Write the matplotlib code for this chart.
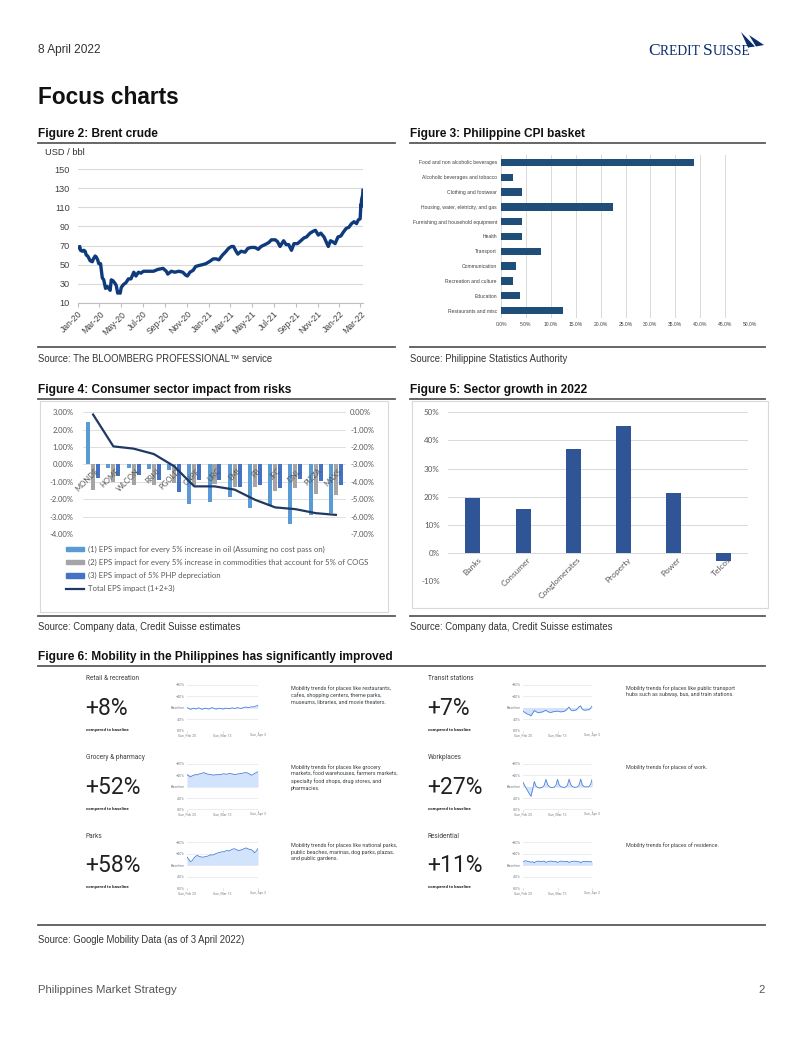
import matplotlib
matplotlib.use('Agg')
import matplotlib.pyplot as plt
import matplotlib.dates as mdates
import matplotlib.transforms as mtransforms
from matplotlib.patches import Polygon, Rectangle, Patch
from matplotlib.lines import Line2D
from matplotlib import font_manager
import numpy as np
import pandas as pd

# ---------------- data ----------------
brent_dates = ['2020-01-02', '2020-01-06', '2020-01-08', '2020-01-13', '2020-01-17', '2020-01-21',
               '2020-01-24', '2020-01-28', '2020-01-31', '2020-02-04', '2020-02-10', '2020-02-13',
               '2020-02-18', '2020-02-21', '2020-02-25', '2020-02-28', '2020-03-04', '2020-03-09',
               '2020-03-13', '2020-03-18', '2020-03-23', '2020-03-27', '2020-03-31', '2020-04-03',
               '2020-04-08', '2020-04-14', '2020-04-17', '2020-04-21', '2020-04-24', '2020-04-28',
               '2020-05-01', '2020-05-07', '2020-05-14', '2020-05-21', '2020-05-28', '2020-06-05',
               '2020-06-11', '2020-06-18', '2020-06-25', '2020-07-02', '2020-07-15', '2020-07-30',
               '2020-08-12', '2020-08-26', '2020-09-04', '2020-09-08', '2020-09-18', '2020-09-28',
               '2020-10-09', '2020-10-20', '2020-10-28', '2020-11-02', '2020-11-09', '2020-11-18',
               '2020-11-25', '2020-12-04', '2020-12-15', '2020-12-24', '2021-01-06', '2021-01-13',
               '2021-01-21', '2021-01-29', '2021-02-08', '2021-02-16', '2021-02-25', '2021-03-05',
               '2021-03-11', '2021-03-18', '2021-03-23', '2021-04-01', '2021-04-12', '2021-04-20',
               '2021-04-29', '2021-05-10', '2021-05-19', '2021-05-27', '2021-06-07', '2021-06-17',
               '2021-06-25', '2021-07-06', '2021-07-12', '2021-07-19', '2021-07-29', '2021-08-05',
               '2021-08-12', '2021-08-20', '2021-08-27', '2021-09-06', '2021-09-15', '2021-09-24',
               '2021-10-01', '2021-10-11', '2021-10-20', '2021-10-26', '2021-11-03', '2021-11-10',
               '2021-11-19', '2021-11-26', '2021-12-01', '2021-12-07', '2021-12-13', '2021-12-20',
               '2021-12-28', '2022-01-05', '2022-01-12', '2022-01-20', '2022-01-27', '2022-02-04',
               '2022-02-11', '2022-02-18', '2022-02-23', '2022-02-28', '2022-03-01', '2022-03-02',
               '2022-03-03', '2022-03-04', '2022-03-07', '2022-03-08']
brent_usd = [68, 69, 65, 64, 65, 64,
             60, 59, 57, 54, 53, 56,
             59, 58, 55, 51, 51, 36,
             34, 25, 27, 25, 23, 34,
             33, 30, 28, 20, 21, 20,
             26, 29, 31, 35, 35, 42,
             38, 42, 41, 43, 43, 43,
             45, 46, 43, 40, 43, 42,
             43, 42, 39, 38, 42, 44,
             48, 49, 50, 51, 54, 56,
             56, 55, 60, 63, 67, 69,
             69, 64, 61, 64, 63, 67,
             68, 68, 66, 69, 71, 73,
             76, 76, 74, 69, 75, 71,
             71, 65, 72, 72, 75, 78,
             79, 83, 85, 86, 81, 83,
             79, 73, 69, 75, 74, 72,
             79, 80, 84, 88, 89, 93,
             95, 93, 97, 98, 105, 113,
             111, 118, 123, 128]

cpi_items = ['Food and non alcoholic beverages', 'Alcoholic beverages and tobacco', 'Clothing and footwear',
             'Housing, water, eletricity, and gas', 'Furnishing and household equipment', 'Health',
             'Transport', 'Communication', 'Recreation and culture', 'Education', 'Restaurants and misc']
cpi_weights = [38.8, 2.5, 4.3, 22.4, 4.3, 4.15, 8.0, 3.0, 2.5, 3.9, 12.4]
cpi_ticks = [0, 5, 10, 15, 20, 25, 30, 35, 40, 45, 50]

eps_tickers = ['MONDE', 'HOME', 'WLCON', 'RRHI', 'PGOLD', 'CNPF', 'URC', 'EMI', 'FB', 'JFC', 'DNL', 'PIZZA', 'MAXS']
eps_oil = [2.45, -0.2, -0.2, -0.25, -0.3, -2.28, -2.17, -1.86, -2.48, -2.4, -3.4, -2.9, -2.8]
eps_commod = [-1.48, -1.0, -1.17, -1.17, -1.07, -1.2, -1.1, -1.32, -1.32, -1.55, -1.36, -1.7, -1.78]
eps_php = [-0.8, -0.65, -0.63, -0.88, -1.6, -0.88, -0.88, -1.32, -1.2, -1.36, -0.83, -0.98, -1.2]
eps_total = [-0.13, -1.96, -2.09, -2.4, -3.1, -4.26, -4.26, -4.45, -5.03, -5.47, -5.57, -5.8, -5.9]
eps_legend = ['(1) EPS impact for every 5% increase in oil (Assuming no cost pass on)',
              '(2) EPS impact for every 5% increase in commodities that account for 5% of COGS',
              '(3) EPS impact of 5% PHP depreciation',
              'Total EPS impact (1+2+3)']

sectors = ['Banks', 'Consumer', 'Conglomerates', 'Property', 'Power', 'Telcos']
sector_growth = [19.5, 15.6, 36.9, 45.0, 21.3, -2.7]

mob_days = pd.date_range('2022-02-20', '2022-04-03')
mob_ticks = ['2022-02-20', '2022-03-13', '2022-04-03']
mob_tick_labels = ['Sun, Feb 20', 'Sun, Mar 13', 'Sun, Apr 3']
mob_retail = [0, -3, -6, -4, -2, -5, -3, -1, -4, -6, -3, -2, -4, -5, -2, 0, -3, -5, -4, -2, -3, -5,
              -4, -2, -3, -4, -2, -1, -3, -2, 0, -2, -3, -1, 1, 2, 0, 1, 3, 2, 4, 6, 8]
mob_grocery = [42, 38, 34, 37, 40, 42, 41, 44, 45, 47, 49, 46, 44, 43, 42, 41, 40, 42, 41, 43, 42, 44,
               45, 43, 44, 46, 45, 44, 42, 43, 44, 45, 46, 47, 48, 49, 47, 44, 40, 42, 46, 49, 52]
mob_parks = [28, 20, 12, 15, 24, 30, 34, 31, 29, 28, 28, 30, 31, 33, 36, 35, 37, 40, 42, 44, 45, 47,
             46, 50, 51, 49, 53, 56, 57, 55, 52, 51, 53, 55, 58, 60, 57, 55, 54, 50, 43, 49, 58]
mob_transit = [-12, -16, -20, -23, -25, -29, -20, -10, -14, -17, -18, -16, -15, -12, -9, -14, -16, -17,
               -15, -14, -13, -12, -14, -15, -14, -13, -10, -4, 2, -8, -11, -10, -9, -4, 3, 6, -6,
               -9, -9, -8, -7, -2, 7]
mob_work = [17, 6, -5, -15, -25, -34, -10, 18, 2, -3, -5, -4, -2, 5, 25, 8, 0, -3, -3, -2, 4, 25, 6,
            0, -2, -3, -1, 5, 26, 7, 0, -2, -2, -1, 5, 26, 6, 0, -1, -1, 0, 8, 27]
mob_resid = [12, 14, 15, 13, 12, 10, 12, 8, 12, 14, 13, 12, 13, 14, 9, 12, 13, 14, 13, 12, 13, 9, 12,
             14, 13, 13, 12, 13, 9, 12, 13, 14, 13, 12, 12, 8, 12, 13, 12, 13, 12, 12, 11]
mob_titles = ['Retail & recreation', 'Grocery & pharmacy', 'Parks',
              'Transit stations', 'Workplaces', 'Residential']
mob_change = ['+8%', '+52%', '+58%', '+7%', '+27%', '+11%']
mob_desc = ['Mobility trends for places like restaurants,\ncafes, shopping centers, theme parks,\nmuseums, libraries, and movie theaters.',
            'Mobility trends for places like grocery\nmarkets, food warehouses, farmers markets,\nspecialty food shops, drug stores, and\npharmacies.',
            'Mobility trends for places like national parks,\npublic beaches, marinas, dog parks, plazas,\nand public gardens.',
            'Mobility trends for places like public transport\nhubs such as subway, bus, and train stations.',
            'Mobility trends for places of work.',
            'Mobility trends for places of residence.']
mob_series = [mob_retail, mob_grocery, mob_parks, mob_transit, mob_work, mob_resid]

# ---------------- fonts ----------------
names = {f.name for f in font_manager.fontManager.ttflist}
if 'Liberation Sans Narrow' in names:
    NARROW, NS = 'Liberation Sans Narrow', 1.0
else:
    NARROW, NS = 'Liberation Sans', 0.86
plt.rcParams['font.family'] = [NARROW, 'DejaVu Sans']
XL = ['Lato', 'DejaVu Sans']
GO = ['Roboto', 'DejaVu Sans']
ARIAL = ['Liberation Sans', 'DejaVu Sans']

W, H = 802, 1037
fig = plt.figure(figsize=(W / 100, H / 100), dpi=100)


def ax_px(x0, y0, x1, y1):
    return fig.add_axes([x0 / W, 1 - y1 / H, (x1 - x0) / W, (y1 - y0) / H])


def txt(x, y, s, **kw):
    kw.setdefault('va', 'center')
    return fig.text(x / W, 1 - y / H, s, **kw)


def hline(x0, x1, y, lw=1.3, color='#5a5a5a'):
    fig.add_artist(Line2D([x0 / W, x1 / W], [1 - y / H, 1 - y / H], lw=lw, color=color,
                          transform=fig.transFigure))


def rect_px(x0, y0, x1, y1, **kw):
    fig.add_artist(Rectangle((x0 / W, 1 - y1 / H), (x1 - x0) / W, (y1 - y0) / H,
                             transform=fig.transFigure, **kw))


def poly_px(pts, **kw):
    fig.add_artist(Polygon([(x / W, 1 - y / H) for x, y in pts], closed=True,
                           transform=fig.transFigure, **kw))


renderer = fig.canvas.get_renderer()


def small_caps(x, y, pieces, **kw):
    # pieces: list of (text, fontsize)
    for s, fs in pieces:
        t = txt(x, y, s, fontsize=fs, va='baseline', **kw)
        bb = t.get_window_extent(renderer=renderer)
        x += bb.width


# ---------------- page header / footer ----------------
txt(38, 50, '8 April 2022', fontsize=10 * NS, color='#333333')
LOGO = '#0b2d6b'
small_caps(648, 55, [('C', 12.5), ('REDIT ', 9.8), ('S', 12.5), ('UISSE', 9.8)],
           color=LOGO, family=['Liberation Serif'])
poly_px([(741, 32), (755, 46.5), (748, 47.5)], color=LOGO, lw=0)
poly_px([(749, 35), (764, 45), (756, 46.5)], color=LOGO, lw=0)
txt(38, 97, 'Focus charts', fontsize=19 * NS, weight='bold', color='#111111')
txt(38, 990, 'Philippines Market Strategy', fontsize=9.5 * NS, color='#555555')
txt(765, 990, '2', fontsize=9.5 * NS, color='#555555', ha='right')

TFS = 10 * NS
SFS = 8 * NS
txt(38, 134, 'Figure 2: Brent crude', fontsize=TFS, weight='bold', color='#111111')
txt(410, 134, 'Figure 3: Philippine CPI basket', fontsize=TFS, weight='bold', color='#111111')
hline(38, 395, 143)
hline(410, 765, 143)
hline(38, 395, 347)
hline(410, 765, 347)
txt(38, 359, 'Source: The BLOOMBERG PROFESSIONAL\u2122 service', fontsize=SFS, color='#333333')
txt(410, 359, 'Source: Philippine Statistics Authority', fontsize=SFS, color='#333333')

txt(38, 390, 'Figure 4: Consumer sector impact from risks', fontsize=TFS, weight='bold', color='#111111')
txt(410, 390, 'Figure 5: Sector growth in 2022', fontsize=TFS, weight='bold', color='#111111')
hline(38, 395, 399)
hline(410, 765, 399)
hline(38, 395, 616)
hline(410, 765, 616)
txt(38, 627, 'Source: Company data, Credit Suisse estimates', fontsize=SFS, color='#333333')
txt(410, 627, 'Source: Company data, Credit Suisse estimates', fontsize=SFS, color='#333333')

txt(38, 657, 'Figure 6: Mobility in the Philippines has significantly improved', fontsize=TFS,
    weight='bold', color='#111111')
hline(38, 765, 666)
hline(38, 765, 925)
txt(38, 940, 'Source: Google Mobility Data (as of 3 April 2022)', fontsize=SFS, color='#333333')

# ---------------- Figure 2: Brent ----------------
ax = ax_px(78, 169.3, 363, 302.7)
bd = pd.to_datetime(brent_dates)
ax.plot(bd, brent_usd, color='#0f3b7d', lw=2.4, solid_joinstyle='round')
ax.set_ylim(10, 150)
ax.set_yticks(range(10, 151, 20))
ax.set_xlim(pd.Timestamp('2020-01-01'), pd.Timestamp('2022-03-08'))
ax.xaxis.set_major_locator(mdates.MonthLocator(bymonth=[1, 3, 5, 7, 9, 11]))
ax.xaxis.set_major_formatter(mdates.DateFormatter('%b-%y'))
ax.yaxis.grid(True, color='#d9d9d9', lw=0.8)
ax.set_axisbelow(True)
for s in ['top', 'right', 'left']:
    ax.spines[s].set_visible(False)
ax.spines['bottom'].set_color('#bfbfbf')
ax.tick_params(axis='y', length=0, pad=6, labelsize=6.6, labelcolor='#404040')
ax.tick_params(axis='x', length=3, color='#bfbfbf', pad=2, labelsize=6.2, labelcolor='#404040')
for lab in ax.get_xticklabels():
    lab.set_fontfamily(ARIAL)
    lab.set_rotation(45)
    lab.set_ha('right')
    lab.set_rotation_mode('anchor')
for lab in ax.get_yticklabels():
    lab.set_fontfamily(ARIAL)
txt(45, 152.5, 'USD / bbl', fontsize=6.7, color='#333333', family=ARIAL)

# ---------------- Figure 3: CPI ----------------
ax = ax_px(501, 155, 750, 318)
yy = np.arange(len(cpi_items))
ax.barh(yy, cpi_weights, height=0.5, color='#1f4e79')
ax.set_ylim(len(cpi_items) - 0.5, -0.5)
ax.set_xlim(0, 50)
ax.set_xticks(cpi_ticks)
ax.set_xticklabels(['%.1f%%' % v for v in cpi_ticks])
ax.set_yticks(yy)
ax.set_yticklabels(cpi_items)
ax.xaxis.grid(True, color='#d9d9d9', lw=0.7)
ax.set_axisbelow(True)
for s in ax.spines.values():
    s.set_visible(False)
ax.tick_params(axis='both', length=0, labelsize=4.2 * NS, labelcolor='#404040')
ax.tick_params(axis='y', pad=3)
ax.tick_params(axis='x', pad=3)

# ---------------- Figure 4: EPS impact ----------------
rect_px(40, 401, 388, 612, fill=False, edgecolor='#d9d9d9', lw=0.8)
ax = ax_px(83, 412.3, 346, 534)
x = np.arange(len(eps_tickers))
c1, c2, c3, c4 = '#5b9bd5', '#a5a5a5', '#4472c4', '#1f3864'
ax.bar(x - 0.245, eps_oil, width=0.2, color=c1)
ax.bar(x, eps_commod, width=0.2, color=c2)
ax.bar(x + 0.245, eps_php, width=0.2, color=c3)
ax.set_xlim(-0.5, len(x) - 0.5)
ax.set_ylim(-4, 3)
ax.set_yticks(range(-4, 4))
ax.set_yticklabels(['%.2f%%' % v for v in range(-4, 4)])
ax.yaxis.grid(True, color='#d9d9d9', lw=0.6)
ax.set_axisbelow(True)
ax.set_xticks([])
for s in ax.spines.values():
    s.set_visible(False)
ax.tick_params(axis='y', length=0, pad=7, labelsize=5.5, labelcolor='#595959')
for lab in ax.get_yticklabels():
    lab.set_fontfamily(XL)
off = mtransforms.offset_copy(ax.transData, fig=fig, x=1.5, y=-2, units='points')
for i, t in enumerate(eps_tickers):
    ax.text(i, 0, t, transform=off, rotation=45, ha='right', va='top', rotation_mode='anchor',
            fontsize=5.5, color='#595959', family=XL)
ax2 = ax.twinx()
ax2.plot(x, eps_total, color=c4, lw=1.6)
ax2.set_ylim(-7, 0)
ax2.set_yticks(range(-7, 1))
ax2.set_yticklabels(['%.2f%%' % v for v in range(-7, 1)])
for s in ax2.spines.values():
    s.set_visible(False)
ax2.tick_params(axis='y', length=0, pad=3, labelsize=5.5, labelcolor='#595959')
for lab in ax2.get_yticklabels():
    lab.set_fontfamily(XL)
handles = [Patch(color=c1), Patch(color=c2), Patch(color=c3), Line2D([], [], color=c4, lw=1.6)]
leg = fig.legend(handles, eps_legend, loc='upper left', bbox_to_anchor=(66 / W, 1 - 546 / H),
                 frameon=False, prop={'family': XL, 'size': 5.6}, handlelength=2.3,
                 handleheight=0.45, labelspacing=0.76, handletextpad=0.5, borderaxespad=0,
                 borderpad=0)
for t in leg.get_texts():
    t.set_color('#595959')

# ---------------- Figure 5: sector growth ----------------
rect_px(412, 401, 768, 608, fill=False, edgecolor='#d9d9d9', lw=0.8)
ax = ax_px(448, 412.3, 748, 581.3)
xs = np.arange(len(sectors))
ax.bar(xs, sector_growth, width=0.3, color='#2f5597')
ax.set_xlim(-0.5, len(sectors) - 0.5)
ax.set_ylim(-10, 50)
ax.set_yticks(range(-10, 51, 10))
ax.set_yticklabels(['%d%%' % v for v in range(-10, 51, 10)])
ax.yaxis.grid(True, color='#d9d9d9', lw=0.7)
ax.set_axisbelow(True)
ax.set_xticks([])
for s in ax.spines.values():
    s.set_visible(False)
ax.tick_params(axis='y', length=0, pad=6, labelsize=5.8, labelcolor='#595959')
for lab in ax.get_yticklabels():
    lab.set_fontfamily(XL)
off = mtransforms.offset_copy(ax.transData, fig=fig, x=3, y=-2, units='points')
for i, t in enumerate(sectors):
    ax.text(i, 0, t, transform=off, rotation=45, ha='right', va='top', rotation_mode='anchor',
            fontsize=6.0, color='#595959', family=XL)

# ---------------- Figure 6: mobility panels ----------------
cols = [dict(tx=86, a0=187, a1=258, dx=291), dict(tx=428, a0=522.7, a1=592.3, dx=626)]
row_dy = [0, 79, 157.5]
for i, (title, chg, desc, ser) in enumerate(zip(mob_titles, mob_change, mob_desc, mob_series)):
    c = cols[i // 3]
    dy = row_dy[i % 3]
    txt(c['tx'], 678.7 + dy, title, fontsize=4.7, color='#3c4043', family=GO)
    txt(c['tx'] - 1, 708.5 + dy, chg, fontsize=16.5, color='#202124', family=GO)
    txt(c['tx'], 729.7 + dy, 'compared to baseline', fontsize=3.2, color='#202124', family=GO,
        weight='bold')
    txt(c['dx'], 685 + dy, desc, fontsize=3.85, color='#3c4043', family=GO, va='top',
        linespacing=1.4)
    ax = ax_px(c['a0'], 684.7 + dy, c['a1'], 730.5 + dy)
    ax.fill_between(mob_days, ser, 0, color='#d2e3fc', lw=0)
    ax.plot(mob_days, ser, color='#4a7fdc', lw=0.6)
    ax.set_ylim(-80, 80)
    ax.set_xlim(mob_days[0], mob_days[-1])
    ax.set_yticks([-80, -40, 0, 40, 80])
    ax.set_yticklabels(['-80%', '-40%', 'Baseline', '+40%', '+80%'])
    ax.set_xticks(pd.to_datetime(mob_ticks))
    ax.set_xticklabels(mob_tick_labels)
    ax.yaxis.grid(True, color='#e3e5e8', lw=0.5)
    ax.set_axisbelow(True)
    for s in ax.spines.values():
        s.set_visible(False)
    ax.tick_params(axis='y', length=0, pad=1.5, labelsize=2.7, labelcolor='#80868b')
    ax.tick_params(axis='x', length=1.2, width=0.4, color='#c0c4c8', pad=0.8, labelsize=2.5,
                   labelcolor='#80868b')
    for lab in ax.get_xticklabels() + ax.get_yticklabels():
        lab.set_fontfamily(GO)

fig.savefig('out.png', dpi=100, facecolor='white')
